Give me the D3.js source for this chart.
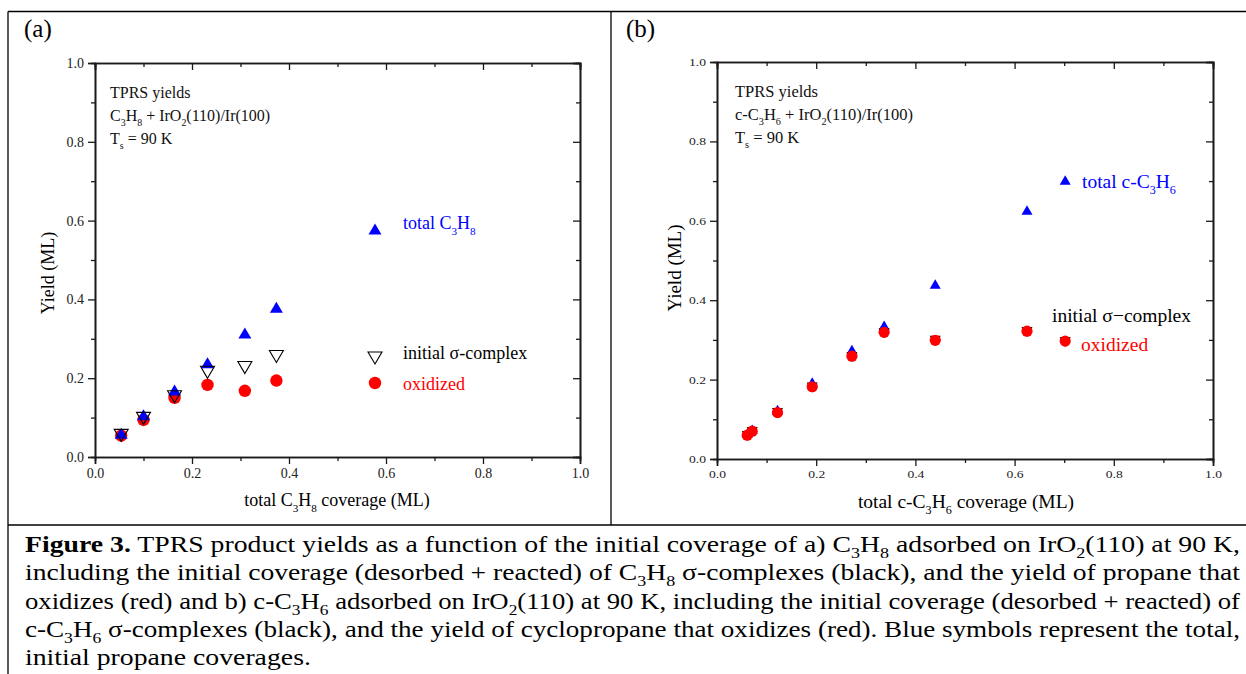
<!DOCTYPE html>
<html>
<head>
<meta charset="utf-8">
<script src="https://cdn.jsdelivr.net/npm/d3@7"></script>
<style>
  html, body { margin: 0; padding: 0; background: #fff; }
  svg { display: block; }
</style>
</head>
<body>
<svg id="chart" width="1246" height="674"></svg>
<script>
// ---------------- data ----------------
// panel (a): C3H8
const aCoverage = [0.054, 0.100, 0.164, 0.232, 0.309, 0.374];
const aTotal    = [0.060, 0.107, 0.170, 0.239, 0.315, 0.380];
const aSigma    = [0.055, 0.098, 0.153, 0.215, 0.227, 0.255];
const aOxidized = [0.054, 0.094, 0.150, 0.183, 0.168, 0.194];
// panel (b): c-C3H6
const bCoverage = [0.061, 0.071, 0.122, 0.192, 0.272, 0.337, 0.440, 0.625, 0.702];
const bTotal    = [0.065, 0.075, 0.125, 0.194, 0.276, 0.337, 0.441, 0.627, 0.703];
const bSigma    = [0.058, 0.068, 0.116, 0.180, 0.257, 0.317, 0.298, 0.320, 0.295];
const bOxidized = [0.060, 0.070, 0.117, 0.182, 0.259, 0.319, 0.299, 0.322, 0.297];
// ticks
const majorTicks = [0.0, 0.2, 0.4, 0.6, 0.8, 1.0];
const minorTicks = [0.1, 0.3, 0.5, 0.7, 0.9];
const tickLabels = ["0.0", "0.2", "0.4", "0.6", "0.8", "1.0"];
// texts
const annotA = ["TPRS yields", "C_3H_8 + IrO_2(110)/Ir(100)", "T_s = 90 K"];
const annotB = ["TPRS yields", "c-C_3H_6 + IrO_2(110)/Ir(100)", "T_s = 90 K"];
const captionLines = [
  " TPRS product yields as a function of the initial coverage of a) C_3H_8 adsorbed on IrO_2(110) at 90 K,",
  "including the initial coverage (desorbed + reacted) of C_3H_8 σ-complexes (black), and the yield of propane that",
  "oxidizes (red) and b) c-C_3H_6 adsorbed on IrO_2(110) at 90 K, including the initial coverage (desorbed + reacted) of",
  "c-C_3H_6 σ-complexes (black), and the yield of cyclopropane that oxidizes (red). Blue symbols represent the total,",
  "initial propane coverages."
];

// ---------------- helpers ----------------
const FONT = '"Liberation Serif", "Times New Roman", serif';
const svg = d3.select("#chart").style("font-family", FONT);
const BLUE = "#0000ff", RED = "#ff0000", AX = "#1a1a1a";

function T(parent) {
  return parent.append("text").style("font-family", FONT);
}

function rich(sel, str, size, ratio = 0.62, shift = 0.32) {
  const parts = str.split(/(_[A-Za-z0-9])/);
  let shifted = false;
  parts.forEach(p => {
    if (!p) return;
    if (p.length === 2 && p[0] === "_") {
      sel.append("tspan").attr("font-size", size * ratio)
        .attr("dy", shifted ? 0 : size * shift).text(p[1]);
      shifted = true;
    } else {
      sel.append("tspan").attr("dy", shifted ? -size * shift : 0).text(p);
      shifted = false;
    }
  });
  return sel;
}

function triUp(w, h) {
  return `M0,${-h / 2}L${w / 2},${h / 2}L${-w / 2},${h / 2}Z`;
}
function triDown(w, h) {
  return `M0,${h / 2}L${w / 2},${-h / 2}L${-w / 2},${-h / 2}Z`;
}

function drawAxes(g, x, y, labelSize, labelWidth) {
  const [x0, x1] = x.range();
  const [y0, y1] = y.range();
  const fmt = d => tickLabels[majorTicks.indexOf(d)];
  g.append("g").attr("transform", `translate(0,${y0})`)
    .call(d3.axisBottom(x).tickValues(majorTicks).tickSize(7).tickFormat(fmt).tickPadding(4));
  g.append("g").attr("transform", `translate(0,${y0})`)
    .call(d3.axisBottom(x).tickValues(minorTicks).tickSize(4).tickFormat(""));
  g.append("g").attr("transform", `translate(${x0},0)`)
    .call(d3.axisLeft(y).tickValues(majorTicks).tickSize(7).tickFormat(fmt).tickPadding(4));
  g.append("g").attr("transform", `translate(${x0},0)`)
    .call(d3.axisLeft(y).tickValues(minorTicks).tickSize(4).tickFormat(""));
  g.append("g").attr("transform", `translate(0,${y1})`)
    .call(d3.axisTop(x).tickValues(majorTicks).tickSize(-7).tickFormat(""));
  g.append("g").attr("transform", `translate(0,${y1})`)
    .call(d3.axisTop(x).tickValues(minorTicks).tickSize(-4).tickFormat(""));
  g.append("g").attr("transform", `translate(${x1},0)`)
    .call(d3.axisRight(y).tickValues(majorTicks).tickSize(-7).tickFormat(""));
  g.append("g").attr("transform", `translate(${x1},0)`)
    .call(d3.axisRight(y).tickValues(minorTicks).tickSize(-4).tickFormat(""));
  g.selectAll("g").attr("font-family", null).attr("font-size", null);
  const lbl = g.selectAll(".tick text").attr("font-size", labelSize).attr("fill", "#222").style("font-family", FONT);
  if (labelWidth) lbl.attr("textLength", labelWidth).attr("lengthAdjust", "spacingAndGlyphs");
  g.selectAll(".domain").attr("stroke", AX).attr("stroke-width", 1.6);
  g.selectAll(".tick line").attr("stroke", AX).attr("stroke-width", 1.3);
}

// ---------------- frame ----------------
const frame = svg.append("g").attr("stroke", "#000").attr("stroke-width", 1.3).attr("fill", "none");
frame.append("line").attr("x1", 8).attr("x2", 1246).attr("y1", 11.5).attr("y2", 11.5);
frame.append("line").attr("x1", 8).attr("x2", 8).attr("y1", 11.5).attr("y2", 674);
frame.append("line").attr("x1", 611).attr("x2", 611).attr("y1", 11.5).attr("y2", 525);
frame.append("line").attr("x1", 8).attr("x2", 1246).attr("y1", 525).attr("y2", 525);

// ---------------- panel (a) ----------------
{
  const x = d3.scaleLinear().domain([0, 1]).range([95, 580]);
  const y = d3.scaleLinear().domain([0, 1]).range([457, 63]);
  const g = svg.append("g");
  T(svg).attr("x", 24).attr("y", 37).attr("font-size", 25).text("(a)");
  drawAxes(g, x, y, 14, null);

  const ptsA = aCoverage.map((c, i) => ({ c, t: aTotal[i], s: aSigma[i], o: aOxidized[i] }));
  g.selectAll(".ox").data(ptsA).join("circle")
    .attr("cx", d => x(d.c)).attr("cy", d => y(d.o)).attr("r", 6.2).attr("fill", RED);
  g.selectAll(".tot").data(ptsA).join("path").attr("class", "tot")
    .attr("transform", d => `translate(${x(d.c)},${y(d.t)})`)
    .attr("d", triUp(13, 11)).attr("fill", BLUE);
  g.selectAll(".sig").data(ptsA).join("path").attr("class", "sig")
    .attr("transform", d => `translate(${x(d.c)},${y(d.s)})`)
    .attr("d", triDown(14, 12)).attr("fill", "none").attr("stroke", "#000").attr("stroke-width", 1.1);

  annotA.forEach((s, i) => {
    rich(T(svg).attr("x", 110).attr("y", 98 + i * 23).attr("font-size", 16).attr("fill", "#111"), s, 16);
  });
  svg.append("path").attr("transform", "translate(375,229)").attr("d", triUp(13, 11)).attr("fill", BLUE);
  rich(T(svg).attr("x", 403).attr("y", 229).attr("font-size", 18).attr("fill", BLUE), "total C_3H_8", 18);
  svg.append("path").attr("transform", "translate(375,358)").attr("d", triDown(14, 12))
    .attr("fill", "none").attr("stroke", "#000").attr("stroke-width", 1.1);
  T(svg).attr("x", 403).attr("y", 359).attr("font-size", 18).attr("fill", "#000").text("initial σ-complex");
  svg.append("circle").attr("cx", 375).attr("cy", 383).attr("r", 6.2).attr("fill", RED);
  T(svg).attr("x", 403).attr("y", 390).attr("font-size", 18).attr("fill", RED).text("oxidized");

  T(svg).attr("transform", "translate(54,273) rotate(-90)").attr("text-anchor", "middle")
    .attr("font-size", 18).text("Yield (ML)");
  rich(T(svg).attr("x", 337).attr("y", 506).attr("text-anchor", "middle").attr("font-size", 18),
    "total C_3H_8 coverage (ML)", 18);
}

// ---------------- panel (b) ----------------
{
  const x = d3.scaleLinear().domain([0, 1]).range([717, 1213]);
  const y = d3.scaleLinear().domain([0, 1]).range([459, 62]);
  const g = svg.append("g");
  T(svg).attr("x", 626).attr("y", 37).attr("font-size", 25).text("(b)");
  drawAxes(g, x, y, 11, 17);

  const ptsB = bCoverage.map((c, i) => ({ c, t: bTotal[i], s: bSigma[i], o: bOxidized[i] }));
  g.selectAll(".tot").data(ptsB).join("path").attr("class", "tot")
    .attr("transform", d => `translate(${x(d.c)},${y(d.t)})`)
    .attr("d", triUp(11, 9.5)).attr("fill", BLUE);
  g.selectAll(".sig").data(ptsB).join("path").attr("class", "sig")
    .attr("transform", d => `translate(${x(d.c)},${y(d.s)})`)
    .attr("d", triDown(11, 10)).attr("fill", "#000");
  g.selectAll(".ox").data(ptsB).join("circle").attr("class", "ox")
    .attr("cx", d => x(d.c)).attr("cy", d => y(d.o)).attr("r", 5.6).attr("fill", RED);

  annotB.forEach((s, i) => {
    rich(T(svg).attr("x", 735).attr("y", 97 + i * 23).attr("font-size", 16.5).attr("fill", "#111"), s, 16.5);
  });
  rich(T(svg).attr("x", 1082).attr("y", 188).attr("font-size", 19.5).attr("fill", BLUE), "total c-C_3H_6", 19.5);
  T(svg).attr("x", 1052).attr("y", 322).attr("font-size", 19.5).attr("fill", "#000").text("initial σ\u2212complex");
  T(svg).attr("x", 1081).attr("y", 351).attr("font-size", 19.5).attr("fill", RED).text("oxidized");

  T(svg).attr("transform", "translate(681,268) rotate(-90)").attr("text-anchor", "middle")
    .attr("font-size", 19).text("Yield (ML)");
  rich(T(svg).attr("x", 966).attr("y", 508).attr("text-anchor", "middle").attr("font-size", 19.5),
    "total c-C_3H_6 coverage (ML)", 19.5);
}

// ---------------- caption ----------------
{
  const fs = 23.5, x0 = 25, target = 1215;
  let k = 1;
  captionLines.forEach((line, i) => {
    const t = T(svg).attr("x", x0).attr("y", 552 + i * 28.3).attr("font-size", fs).attr("fill", "#000");
    if (i === 0) t.append("tspan").attr("font-weight", "bold").text("Figure 3.");
    rich(t, line, fs, 0.65, 0.26);
    const w = t.node().getComputedTextLength();
    if (i < 4) {
      if (i === 0) k = target / w;
      t.attr("textLength", target).attr("lengthAdjust", "spacingAndGlyphs");
    } else {
      t.attr("textLength", w * k).attr("lengthAdjust", "spacingAndGlyphs");
    }
  });
}
</script>
</body>
</html>
